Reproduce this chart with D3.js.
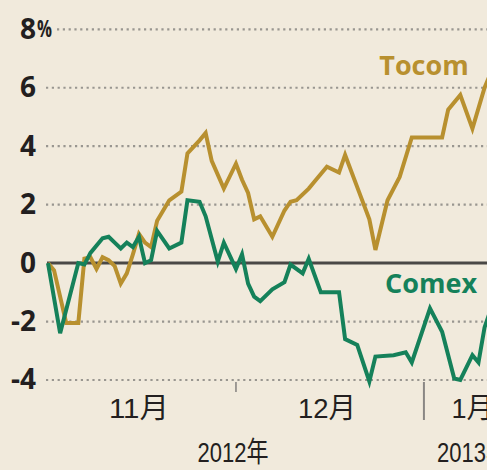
<!DOCTYPE html>
<html><head><meta charset="utf-8">
<script src="https://cdn.jsdelivr.net/npm/d3@7"></script>
<style>html,body{margin:0;padding:0;background:#f1eadc;}svg{display:block}</style>
</head><body><svg id="chart" width="487" height="470"></svg>
<script>
// ---- data ----
const tocomDates = ["2012-10-31","2012-11-01","2012-11-03","2012-11-05","2012-11-06","2012-11-07","2012-11-08","2012-11-09","2012-11-10","2012-11-11","2012-11-12","2012-11-13","2012-11-14","2012-11-15","2012-11-16","2012-11-17","2012-11-18","2012-11-20","2012-11-22","2012-11-23","2012-11-25","2012-11-26","2012-11-27","2012-11-29","2012-12-01","2012-12-02","2012-12-03","2012-12-04","2012-12-05","2012-12-07","2012-12-09","2012-12-10","2012-12-11","2012-12-13","2012-12-14","2012-12-16","2012-12-18","2012-12-19","2012-12-21","2012-12-23","2012-12-24","2012-12-26","2012-12-28","2012-12-30","2013-01-04","2013-01-05","2013-01-07","2013-01-09","2013-01-11","2013-01-12"];
const tocomValues = [0,-0.25,-2.05,-2.05,0.15,0.2,-0.2,0.2,0.1,-0.1,-0.7,-0.35,0.3,1.0,0.7,0.55,1.45,2.15,2.45,3.75,4.2,4.45,3.5,2.55,3.4,2.85,2.4,1.5,1.6,0.9,1.8,2.1,2.15,2.55,2.8,3.3,3.1,3.7,2.6,1.5,0.45,2.15,2.95,4.3,4.3,5.25,5.75,4.6,6.0,6.5];
const comexDates = ["2012-10-31","2012-11-02","2012-11-05","2012-11-06","2012-11-07","2012-11-09","2012-11-10","2012-11-11","2012-11-12","2012-11-13","2012-11-14","2012-11-15","2012-11-16","2012-11-17","2012-11-18","2012-11-20","2012-11-22","2012-11-23","2012-11-25","2012-11-26","2012-11-28","2012-11-29","2012-12-01","2012-12-02","2012-12-03","2012-12-04","2012-12-05","2012-12-07","2012-12-09","2012-12-10","2012-12-12","2012-12-13","2012-12-15","2012-12-18","2012-12-19","2012-12-21","2012-12-23","2012-12-24","2012-12-27","2012-12-29","2012-12-30","2013-01-02","2013-01-04","2013-01-06","2013-01-07","2013-01-09","2013-01-10","2013-01-11","2013-01-12"];
const comexValues = [0,-2.4,0,-0.05,0.35,0.85,0.9,0.7,0.5,0.7,0.55,0.9,0,0.1,1.1,0.5,0.7,2.15,2.1,1.6,0.05,0.7,-0.2,0.3,-0.7,-1.15,-1.3,-0.9,-0.65,-0.05,-0.35,0.15,-1.0,-1.0,-2.6,-2.8,-4.05,-3.2,-3.15,-3.05,-3.4,-1.55,-2.35,-3.95,-4.0,-3.15,-3.4,-2.2,-1.6];
const seriesNames = ["Tocom","Comex"];
const yTickValues = [-4,-2,0,2,4,6,8];
const yTickLabels = ["-4","-2","0","2","4","6","8"];
const yUnit = "%";
const monthTickDates = ["2012-12-01"];
const yearTickDates = ["2013-01-01"];
const monthLabels = ["11月","12月","1月"];
const monthLabelDates = ["2012-11-15","2012-12-16","2013-01-09"];
const yearLabels = ["2012年","2013年"];
const yearLabelDates = ["2012-11-30T12:00","2013-01-09"];

// ---- drawing ----
const parse = s => new Date(s.includes("T") ? s + ":00Z" : s + "T00:00:00Z");
const svg = d3.select("#chart");
const W = 487;
const gold = "#b8902f", green = "#15815a";

const x = d3.scaleUtc()
  .domain([parse("2012-10-31"), parse("2013-01-11T09:40")])
  .range([48, W]);
const y = d3.scaleLinear().domain([-4, 8]).range([380, 29.3]);

svg.append("rect").attr("width", W).attr("height", 470).attr("fill", "#f1eadc");

// grid lines
svg.append("g").selectAll("line")
  .data(yTickValues.filter(v => v !== 0))
  .join("line")
  .attr("x1", d => d === 8 ? 57 : 46)
  .attr("x2", W)
  .attr("y1", d => y(d)).attr("y2", d => y(d))
  .attr("stroke", "#999690")
  .attr("stroke-width", 2.2)
  .attr("stroke-dasharray", "2.2 3.6");

// y axis labels
const yAxis = d3.axisLeft(y).tickValues(yTickValues)
  .tickFormat(d => yTickLabels[yTickValues.indexOf(d)])
  .tickSize(0).tickPadding(0);
const ya = svg.append("g").attr("transform", "translate(36,0)").call(yAxis);
ya.select(".domain").remove();
ya.selectAll("text")
  .attr("font-family", "'Open Sans', sans-serif")
  .attr("font-weight", "bold")
  .attr("font-size", 28)
  .attr("fill", "#231f20");
svg.append("text")
  .attr("x", 37).attr("y", y(8)).attr("dy", "0.32em")
  .attr("font-family", "'Open Sans', sans-serif")
  .attr("font-weight", "bold")
  .attr("font-size", 24)
  .attr("textLength", 15).attr("lengthAdjust", "spacingAndGlyphs")
  .attr("fill", "#231f20")
  .text(yUnit);

// zero line
svg.append("line")
  .attr("x1", 47).attr("x2", W)
  .attr("y1", y(0)).attr("y2", y(0))
  .attr("stroke", "#4a4846").attr("stroke-width", 3);

// x ticks
svg.append("g").selectAll("line")
  .data(monthTickDates).join("line")
  .attr("x1", d => x(parse(d))).attr("x2", d => x(parse(d)))
  .attr("y1", 382).attr("y2", 392)
  .attr("stroke", "#8a8784").attr("stroke-width", 1.6);
svg.append("g").selectAll("line")
  .data(yearTickDates).join("line")
  .attr("x1", d => x(parse(d))).attr("x2", d => x(parse(d)))
  .attr("y1", 382).attr("y2", 420)
  .attr("stroke", "#8a8784").attr("stroke-width", 2);

// x labels
const monthLen = [60, 58, 42];
svg.append("g").selectAll("text")
  .data(monthLabels).join("text")
  .attr("x", (d, i) => x(parse(monthLabelDates[i])))
  .attr("y", 418)
  .attr("text-anchor", "middle")
  .attr("font-family", "'Liberation Sans', 'Noto Sans CJK SC', sans-serif")
  .attr("font-size", 28)
  .attr("textLength", (d, i) => monthLen[i]).attr("lengthAdjust", "spacingAndGlyphs")
  .attr("fill", "#231f20")
  .text(d => d);
const yearLen = [71, 71];
svg.append("g").selectAll("text")
  .data(yearLabels).join("text")
  .attr("x", (d, i) => x(parse(yearLabelDates[i])))
  .attr("y", 462)
  .attr("text-anchor", "middle")
  .attr("font-family", "'Liberation Sans', 'Noto Sans CJK SC', sans-serif")
  .attr("font-size", 28)
  .attr("textLength", (d, i) => yearLen[i]).attr("lengthAdjust", "spacingAndGlyphs")
  .attr("fill", "#231f20")
  .text(d => d);

// lines
const line = d3.line().x(d => x(d.date)).y(d => y(d.value));
const tocom = tocomDates.map((d, i) => ({date: parse(d), value: tocomValues[i]}));
const comex = comexDates.map((d, i) => ({date: parse(d), value: comexValues[i]}));
svg.append("path").datum(tocom)
  .attr("d", line).attr("fill", "none")
  .attr("stroke", gold).attr("stroke-width", 4);
svg.append("path").datum(comex)
  .attr("d", line).attr("fill", "none")
  .attr("stroke", green).attr("stroke-width", 4);

// series labels
svg.append("text").attr("x", 424).attr("y", 75)
  .attr("text-anchor", "middle")
  .attr("font-family", "'Open Sans', sans-serif").attr("font-weight", "bold")
  .attr("font-size", 27).attr("fill", gold).text(seriesNames[0]);
svg.append("text").attr("x", 431).attr("y", 293)
  .attr("text-anchor", "middle")
  .attr("font-family", "'Open Sans', sans-serif").attr("font-weight", "bold")
  .attr("font-size", 27).attr("fill", green).text(seriesNames[1]);
</script></body></html>
